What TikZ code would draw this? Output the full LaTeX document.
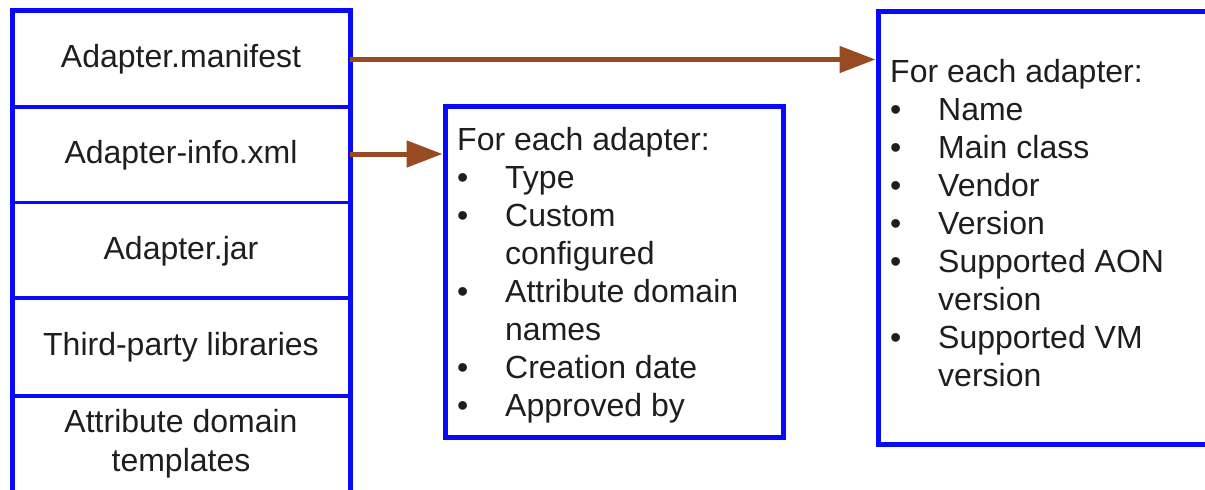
\documentclass[tikz,border=0pt]{standalone}
\usepackage{fontspec}
\setmainfont{Liberation Sans}
\usetikzlibrary{arrows.meta,calc}
\definecolor{boxblue}{RGB}{10,10,250}
\definecolor{arrowbrown}{RGB}{152,74,34}
\definecolor{txt}{RGB}{30,30,30}
\newcommand{\bitem}[1]{\hbox{\makebox[48pt][l]{\textbullet}#1}}
\newcommand{\bcont}[1]{\hbox{\hspace*{48pt}#1}}
\tikzset{
  colline/.style={draw=boxblue, line width=5pt},
  divline/.style={draw=boxblue, line width=3.5pt},
  cell/.style={inner sep=0pt, minimum width=338pt, text=txt, align=center,
    font=\fontsize{32}{39}\selectfont},
  infobox/.style={draw=boxblue, line width=5pt, inner sep=0pt},
  infotext/.style={inner sep=0pt, anchor=base west, text=txt,
    font=\fontsize{32}{38}\selectfont},
  conn/.style={draw=arrowbrown, line width=5pt,
    -{Triangle[length=36pt,width=26pt]}, arrowbrown}
}
\begin{document}
\begin{tikzpicture}[x=1pt,y=-1pt]
\useasboundingbox (0,0) rectangle (1205,490);
% left column frame
\draw[colline] (12,505) -- (12,10) -- (350,10) -- (350,505);
\draw[divline] (12,107) -- (350,107);
\draw[divline] (12,202.5) -- (350,202.5);
\draw[divline] (12,298) -- (350,298);
\draw[divline] (12,396) -- (350,396);
% cells
\node[cell] (c1) at (181,59.5) {Adapter.manifest};
\node[cell] (c2) at (181,155.5) {Adapter-info.xml};
\node[cell] (c3) at (181,251) {Adapter.jar};
\node[cell] (c4) at (181,347) {Third-party libraries};
\node[cell] (c5) at (181,443.5) {Attribute domain\\templates};
% boxes
\node[infobox, minimum width=338pt, minimum height=331pt] (mid) at (614,271.5) {};
\node[infobox, minimum width=352pt, minimum height=433pt] (right) at (1054,227.5) {};
% texts
\node[infotext] (midtext) at (457,150) {\vtop{\baselineskip=38pt
  \hbox{For each adapter:}
  \bitem{Type}
  \bitem{Custom}
  \bcont{configured}
  \bitem{Attribute domain}
  \bcont{names}
  \bitem{Creation date}
  \bitem{Approved by}}};
\node[infotext] (righttext) at (890,82) {\vtop{\baselineskip=38pt
  \hbox{For each adapter:}
  \bitem{Name}
  \bitem{Main class}
  \bitem{Vendor}
  \bitem{Version}
  \bitem{Supported AON}
  \bcont{version}
  \bitem{Supported VM}
  \bcont{version}}};
% connectors
\draw[conn] ($(c1.east)+(0,0)$) -- ($(c1.east -| right.west)+(0,0)$);
\draw[conn] ($(c2.east)+(0,-1.5)$) -- ($(c2.east -| mid.west)+(0,-1.5)$);
\end{tikzpicture}
\end{document}
